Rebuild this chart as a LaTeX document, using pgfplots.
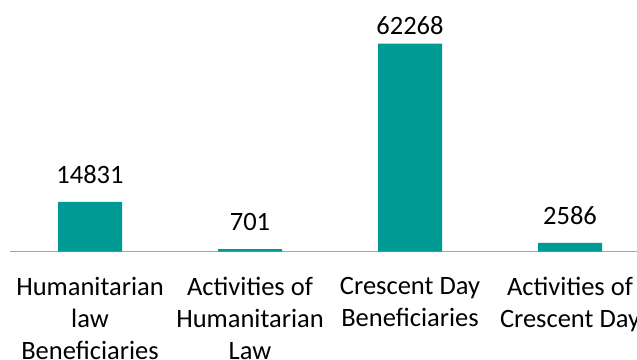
\documentclass[border=0pt]{standalone}
\usepackage{pgfplots}
\pgfplotsset{compat=1.18}
\usepackage{fontspec}
\setmainfont{Carlito}
\definecolor{barteal}{HTML}{009A95}
\definecolor{axisgray}{HTML}{A6A6A6}
\begin{document}
\begin{tikzpicture}
\useasboundingbox (0,0) rectangle (637bp,360bp);
\clip (0,0) rectangle (637bp,360bp);
\begin{axis}[
  at={(10bp,108.5bp)}, anchor=south west,
  scale only axis, width=640bp, height=233.8bp,
  xmin=-0.5, xmax=3.5, ymin=0, ymax=70000,
  axis x line=bottom, axis y line=none,
  x axis line style={-, draw=axisgray, line width=1bp},
  ytick=\empty,
  xtick=data,
  xticklabels={{Humanitarian\\law\\Beneficiaries},{Activities of\\Humanitarian\\Law},{Crescent Day\\Beneficiaries},{Activities of\\Crescent Day}},
  x tick label style={align=center, font=\fontsize{26.5bp}{32bp}\selectfont, anchor=north, yshift=-18bp},
  xtick style={draw=none},
  ybar, bar width=64bp,
  nodes near coords,
  visualization depends on={\thisrow{off} \as \labeloff},
  every node near coord/.append style={font=\fontsize{26.5bp}{30bp}\selectfont, yshift=\labeloff bp},
  /pgf/number format/.cd, 1000 sep={}, assume math mode=true,
]
\addplot[fill=barteal, draw=none] table[x=x, y=y] {
x y off
0 14831 14.5
1 701 14.5
2 62268 5
3 2586 14.5
};
\end{axis}
\end{tikzpicture}
\end{document}
